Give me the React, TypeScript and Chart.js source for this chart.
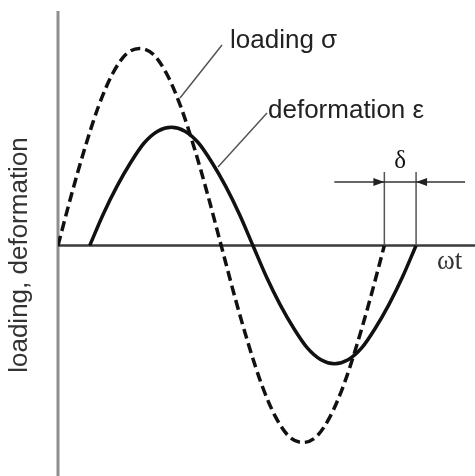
import React, { useEffect, useRef } from "react";
import { Chart, registerables } from "chart.js";

Chart.register(...registerables);

// phase angle ωt in degrees
const loadingAngles = [0, 15, 30, 45, 60, 75, 90, 105, 120, 135, 150, 165, 180, 195, 210, 225, 240, 255, 270, 285, 300, 315, 330, 345, 360];
// loading σ (dashed), relative amplitude
const loadingValues = [0, 0.26, 0.5, 0.71, 0.87, 0.97, 1.0, 0.97, 0.87, 0.71, 0.5, 0.26, 0, -0.26, -0.5, -0.71, -0.87, -0.97, -1.0, -0.97, -0.87, -0.71, -0.5, -0.26, 0];
// deformation ε (solid), lagging by δ
const deformationAngles = [35, 50, 65, 80, 95, 110, 125, 140, 155, 170, 185, 200, 215, 230, 245, 260, 275, 290, 305, 320, 335, 350, 365, 380, 395];
const deformationValues = [0, 0.16, 0.3, 0.42, 0.52, 0.58, 0.6, 0.58, 0.52, 0.42, 0.3, 0.16, 0, -0.16, -0.3, -0.42, -0.52, -0.58, -0.6, -0.58, -0.52, -0.42, -0.3, -0.16, 0];

const xRange = [0, 460];
const yRange = [-1.17, 1.19];
const deltaMarks = [360, 395];

const yTitle = "loading, deformation";
const loadingLabel = "loading σ";
const deformationLabel = "deformation ε";
const xLabel = "ωt";
const deltaLabel = "δ";

const sans = '"Liberation Sans", Arial, sans-serif';
const serif = '"Liberation Serif", "Times New Roman", serif';

const decorPlugin = {
  id: "decor",
  beforeDatasetsDraw(chart: any) {
    const { ctx, scales, chartArea } = chart;
    const xs = scales.x;
    const ys = scales.y;
    const x0 = xs.getPixelForValue(0);
    const y0 = ys.getPixelForValue(0);
    ctx.save();
    ctx.lineCap = "butt";
    ctx.strokeStyle = "#8f8f8f";
    ctx.lineWidth = 3;
    ctx.beginPath();
    ctx.moveTo(x0, chartArea.top);
    ctx.lineTo(x0, chartArea.bottom);
    ctx.stroke();
    ctx.strokeStyle = "#3a3a3a";
    ctx.lineWidth = 2.5;
    ctx.beginPath();
    ctx.moveTo(x0, y0);
    ctx.lineTo(chartArea.right, y0);
    ctx.stroke();
    ctx.restore();
  },
  afterDatasetsDraw(chart: any) {
    const { ctx, scales } = chart;
    const xs = scales.x;
    const ys = scales.y;
    const y0 = ys.getPixelForValue(0);
    ctx.save();

    // y title
    ctx.save();
    ctx.translate(27, 255);
    ctx.rotate(-Math.PI / 2);
    ctx.fillStyle = "#333";
    ctx.font = `26px ${sans}`;
    ctx.textAlign = "center";
    ctx.textBaseline = "alphabetic";
    ctx.fillText(yTitle, 0, 0);
    ctx.restore();

    // curve labels
    ctx.fillStyle = "#222";
    ctx.font = `26px ${sans}`;
    ctx.textAlign = "left";
    ctx.textBaseline = "alphabetic";
    ctx.fillText(loadingLabel, 230, 48);
    ctx.fillText(deformationLabel, 268, 118);

    // leader lines
    ctx.strokeStyle = "#555";
    ctx.lineWidth = 1.5;
    ctx.beginPath();
    ctx.moveTo(222, 45);
    ctx.lineTo(180, 98);
    ctx.moveTo(267, 113);
    ctx.lineTo(218, 167);
    ctx.stroke();

    // ωt label
    ctx.fillStyle = "#333";
    ctx.font = `27px ${serif}`;
    ctx.fillText(xLabel, 437, 269);

    // δ marker
    const xa = xs.getPixelForValue(deltaMarks[0]);
    const xb = xs.getPixelForValue(deltaMarks[1]);
    const topY = 172;
    const arrowY = 182;
    ctx.strokeStyle = "#555";
    ctx.lineWidth = 1.5;
    ctx.beginPath();
    ctx.moveTo(xa, topY);
    ctx.lineTo(xa, y0);
    ctx.moveTo(xb, topY);
    ctx.lineTo(xb, y0);
    ctx.stroke();
    ctx.strokeStyle = "#333";
    ctx.lineWidth = 1.5;
    ctx.beginPath();
    ctx.moveTo(xa - 50, arrowY);
    ctx.lineTo(xb + 49, arrowY);
    ctx.stroke();
    ctx.fillStyle = "#222";
    ctx.beginPath();
    ctx.moveTo(xa, arrowY);
    ctx.lineTo(xa - 11, arrowY - 4);
    ctx.lineTo(xa - 11, arrowY + 4);
    ctx.closePath();
    ctx.fill();
    ctx.beginPath();
    ctx.moveTo(xb, arrowY);
    ctx.lineTo(xb + 11, arrowY - 4);
    ctx.lineTo(xb + 11, arrowY + 4);
    ctx.closePath();
    ctx.fill();

    ctx.fillStyle = "#111";
    ctx.font = `25px ${serif}`;
    ctx.textAlign = "center";
    ctx.fillText(deltaLabel, (xa + xb) / 2, 168);

    ctx.restore();
  },
};

export default function App() {
  const ref = useRef<HTMLCanvasElement>(null);

  useEffect(() => {
    if (!ref.current) return;
    const loadingData = loadingAngles.map((a, i) => ({ x: a, y: loadingValues[i] }));
    const deformationData = deformationAngles.map((a, i) => ({ x: a, y: deformationValues[i] }));
    const chart = new Chart(ref.current, {
      type: "line",
      data: {
        datasets: [
          {
            label: loadingLabel,
            data: loadingData,
            borderColor: "#111",
            borderWidth: 3.5,
            borderDash: [10, 5],
            pointRadius: 0,
            cubicInterpolationMode: "monotone",
            fill: false,
          },
          {
            label: deformationLabel,
            data: deformationData,
            borderColor: "#111",
            borderWidth: 3.5,
            pointRadius: 0,
            cubicInterpolationMode: "monotone",
            fill: false,
          },
        ],
      },
      options: {
        responsive: false,
        animation: false,
        layout: { padding: { left: 58, top: 11, right: 0, bottom: 0 } },
        plugins: { legend: { display: false }, tooltip: { enabled: false } },
        scales: {
          x: { type: "linear", min: xRange[0], max: xRange[1], display: false },
          y: { type: "linear", min: yRange[0], max: yRange[1], display: false },
        },
      },
      plugins: [decorPlugin],
    } as any);
    return () => chart.destroy();
  }, []);

  return (
    <div style={{ position: "fixed", left: 0, top: 0, width: 475, height: 476, background: "#fff" }}>
      <canvas ref={ref} width={475} height={476} style={{ display: "block", width: 475, height: 476 }} />
    </div>
  );
}
